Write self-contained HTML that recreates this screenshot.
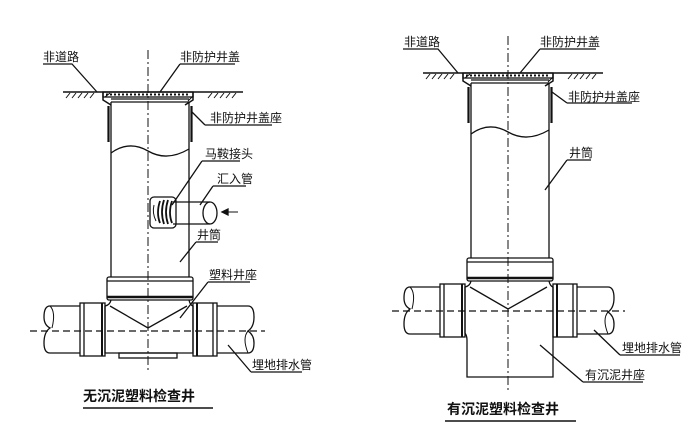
<!DOCTYPE html>
<html><head><meta charset="utf-8"><style>
html,body{margin:0;padding:0;background:#fff;}
svg{display:block;}
text{font-family:"Liberation Sans","Noto Sans CJK SC",sans-serif;font-size:12px;fill:#111;}
.t{font-size:14px;font-weight:bold;}
</style></head><body>
<svg width="700" height="436" viewBox="0 0 700 436" xmlns="http://www.w3.org/2000/svg">
<defs>
<g id="well" fill="none" stroke="#111" stroke-width="1.3">
  <line x1="63" y1="92" x2="243" y2="92" stroke-width="1.5"/>
  <path d="M66 98l4-5M72 98l4-5M78 98l4-5M84 98l4-5M90 98l4-5M208 98l4-5M214 98l4-5M220 98l4-5M226 98l4-5M232 98l4-5" stroke-width="1"/>
  <rect x="103" y="92" width="90" height="5"/>
  <path d="M106 94.5h84" stroke-dasharray="2 2" stroke-width="2"/>
  <path d="M103 92v8l8 5M193 92v8l-8 5" stroke-width="1.5"/>
  <path d="M105 97l5-4M188 101l5-5" stroke-width="1"/>
  <line x1="111" y1="99" x2="189" y2="99"/>
  <line x1="111" y1="102" x2="189" y2="102"/>
  <line x1="111" y1="102" x2="111" y2="277"/>
  <line x1="189" y1="102" x2="189" y2="277"/>
  <path d="M108.5 106v36M191.5 106v36" stroke-width="2.2"/>
  <path d="M111 153 Q129 140 148 151 T189 149"/>
  <rect x="107" y="277" width="86" height="23" rx="2"/>
  <line x1="107" y1="281" x2="193" y2="281"/>
  <line x1="107" y1="297" x2="193" y2="297" stroke-width="2.5"/>
  <path d="M111 300 Q110 305 105 306M189 300 Q190 305 193 306"/>
  <path d="M110 306 L148 328 L187 306"/>
  <path d="M80 306 H50 Q44 306 44 317 Q44 325 50 328 Q44 332 44 343 Q44 353 50 353 H80"/>
  <path d="M50 306 Q56 312 52 328" stroke-width="1"/>
  <rect x="80" y="303" width="25" height="53"/>
  <line x1="84" y1="303" x2="84" y2="356"/>
  <line x1="102" y1="303" x2="102" y2="356" stroke-width="2"/>
  <rect x="193" y="303" width="24" height="53"/>
  <line x1="197" y1="303" x2="197" y2="356" stroke-width="2"/>
  <line x1="213" y1="303" x2="213" y2="356"/>
  <path d="M217 306 H248 Q254 306 254 317 Q254 327 248 331 Q254 335 254 343 Q254 353 248 353 H217"/>
  <path d="M248 331 Q242 338 248 353" stroke-width="1"/>
</g>
</defs>

<use href="#well"/>
<g fill="none" stroke="#111" stroke-width="1.3">
  <path d="M105 306 V353 H193 V306"/>
  <rect x="119" y="353" width="58" height="5"/>
  <rect x="150" y="197" width="26" height="31" rx="4"/>
  <path d="M160 201 q-4 12 0 22M164 200 q-4 12 0 24M168 200 q-4 12 0 24M172 201 q-4 12 0 22" stroke-width="1.8"/>
  <path d="M154 205 q-2 8 2 16" stroke-width="1"/>
  <path d="M173 202 H210 M173 224 H210"/>
  <ellipse cx="210" cy="213" rx="7" ry="11"/>
  <path d="M222 212 H238" stroke-width="1"/>
  <path d="M222 212 l6-3 v6z" fill="#111"/>
  <line x1="148" y1="50" x2="148" y2="372" stroke-dasharray="9 3 2 3" stroke-width="1"/>
  <line x1="30" y1="331" x2="265" y2="331" stroke-dasharray="7 4" stroke-width="1.3"/>
  <path d="M43 64 H72 L97 92"/>
  <path d="M180 64 H235 M180 64 L160 92"/>
  <path d="M205 125 H272 M205 125 L192 112"/>
  <path d="M202 161 H240 M202 161 L172 205"/>
  <path d="M213 186 H246 M213 186 L200 205"/>
  <path d="M196 242 H218 M196 242 L180 262"/>
  <path d="M208 282 H250 M208 282 L180 318"/>
  <path d="M251 372 H302 M251 372 L228 345"/>
  <path d="M83 408 H213" stroke-width="1.5"/>
</g>
<text x="43" y="61">非道路</text>
<text x="180" y="61">非防护井盖</text>
<text x="210" y="122">非防护井盖座</text>
<text x="205" y="158">马鞍接头</text>
<text x="217" y="183">汇入管</text>
<text x="197" y="239">井筒</text>
<text x="209" y="279">塑料井座</text>
<text x="252" y="369">埋地排水管</text>
<text class="t" x="83" y="401">无沉泥塑料检查井</text>

<use href="#well" transform="translate(360,-19)"/>
<g fill="none" stroke="#111" stroke-width="1.3">
  <path d="M465 287 V333 Q467 336 467 340 V377 H553 V340 Q553 336 553 333 V287"/>
  <line x1="508" y1="36" x2="508" y2="392" stroke-dasharray="9 3 2 3" stroke-width="1"/>
  <line x1="392" y1="311" x2="625" y2="311" stroke-dasharray="7 4" stroke-width="1.3"/>
  <path d="M403 49 H438 L458 73"/>
  <path d="M540 49 H596 M540 49 L520 73"/>
  <path d="M567 103 H632 M567 103 L552 92"/>
  <path d="M567 160 H591 M567 160 L545 190"/>
  <path d="M620 355 H680 M620 355 L594 330"/>
  <path d="M583 382 H643 M583 382 L540 345"/>
  <path d="M445 421 H576" stroke-width="1.5"/>
</g>
<text x="404" y="46">非道路</text>
<text x="540" y="46">非防护井盖</text>
<text x="568" y="101">非防护井盖座</text>
<text x="569" y="157">井筒</text>
<text x="622" y="352">埋地排水管</text>
<text x="585" y="379">有沉泥井座</text>
<text class="t" x="447" y="414">有沉泥塑料检查井</text>
</svg>
</body></html>
